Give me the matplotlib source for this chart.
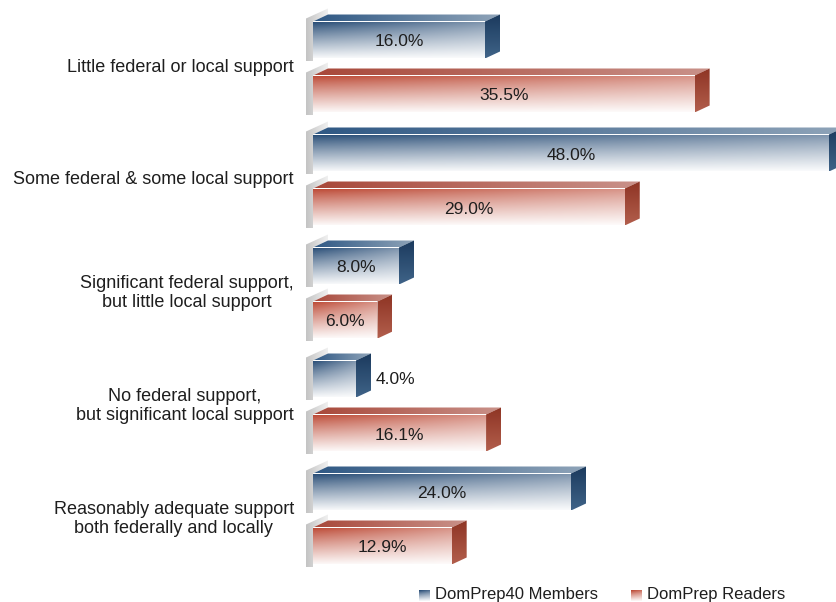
import numpy as np
import matplotlib
matplotlib.use("Agg")
import matplotlib.pyplot as plt
from matplotlib.patches import Polygon
from matplotlib.colors import to_rgb

# ---------------- data ----------------
categories = [
    "Little federal or local support",
    "Some federal & some local support",
    "Significant federal support,\nbut little local support",
    "No federal support,\nbut significant local support",
    "Reasonably adequate support\nboth federally and locally",
]
members = [16.0, 48.0, 8.0, 4.0, 24.0]
readers = [35.5, 29.0, 6.0, 16.1, 12.9]
series_names = ["DomPrep40 Members", "DomPrep Readers"]

# ---------------- layout ----------------
W, H = 837, 602
fig = plt.figure(figsize=(W / 100, H / 100), dpi=100)
ax = fig.add_axes([0, 0, 1, 1])
ax.set_axis_off()
plt.rcParams["font.family"] = ["Liberation Sans", "DejaVu Sans"]

X0 = 313.0      # pixel of value 0
PXU = 10.75     # pixels per percent
YC0 = 67.0      # pixel of first category centre
PERIOD = 113.0  # pixels between categories


def px_x(p):
    return p / PXU


def px_y(p):
    return p / PERIOD


def to_dx(xpx):
    return (xpx - X0) / PXU


def to_dy(ypx):
    return (ypx - YC0) / PERIOD


BAR_H = px_y(37)
OFF = px_y(27)
DX = px_x(15)
DY = px_y(7)

WHITE = np.array([1.0, 1.0, 1.0])


def fill(verts, extent, rgb, z):
    poly = Polygon(verts, closed=True, facecolor="none", edgecolor="none", zorder=z)
    ax.add_patch(poly)
    im = ax.imshow(rgb, extent=extent, origin="upper", aspect="auto",
                   interpolation="bilinear", zorder=z)
    im.set_clip_path(poly)


def front_grad(dark, light_right, nx=200, ny=60):
    u = np.linspace(0, 1, nx)[None, :]
    v = np.linspace(0, 1, ny)[:, None]
    w = 1 - (1 - 0.96 * v ** 0.85) * (1 - light_right * u)
    d = np.array(to_rgb(dark))
    return d[None, None, :] + (WHITE - d)[None, None, :] * w[:, :, None]


def lin_grad(c0, c1, n=100, horizontal=True):
    t = np.linspace(0, 1, n)
    a, b = np.array(to_rgb(c0)), np.array(to_rgb(c1))
    g = a[None, :] + (b - a)[None, :] * t[:, None]
    return g[None, :, :] if horizontal else g[:, None, :]


styles = {
    "blue": dict(front="#204671", light=0.40, top=("#2f5884", "#8ea3b8"),
                 side=("#1b3a5d", "#3f6388")),
    "red": dict(front="#ba432e", light=0.40, top=("#a8483a", "#c99189"),
                side=("#8e3424", "#b25e4c")),
}


def draw_bar(value, yc, st):
    yt = yc - BAR_H / 2
    yb = yc + BAR_H / 2
    # gray wall piece on the left
    xl = -px_x(7)
    wall = [(xl, yb + px_y(3)), (xl, yt - px_y(3)), (DX, yt - DY - px_y(6)),
            (DX, yt - DY), (0, yt), (0, yb + px_y(3))]
    fill(wall, (xl, DX, yb + px_y(3), yt - DY - px_y(6)),
         lin_grad("#c4c4c4", "#f0f0f0"), 1)
    # front face
    front = [(0, yt), (value, yt), (value, yb), (0, yb)]
    fill(front, (0, value, yb, yt), front_grad(st["front"], st["light"]), 3)
    # top face
    top = [(0, yt), (DX, yt - DY), (value + DX, yt - DY), (value, yt)]
    fill(top, (0, value + DX, yt, yt - DY), lin_grad(*st["top"]), 3)
    # side face
    side = [(value, yt), (value + DX, yt - DY), (value + DX, yb - DY), (value, yb)]
    fill(side, (value, value + DX, yb, yt - DY),
         lin_grad(*st["side"], horizontal=False), 3)


TXT = "#1e1e1e"
for i, cat in enumerate(categories):
    yc = i
    for val, sign, key in ((members[i], -1, "blue"), (readers[i], 1, "red")):
        yb_c = yc + sign * OFF
        draw_bar(val, yb_c, styles[key])
        label = f"{val:.1f}%"
        if val * PXU > 60:
            ax.text(val / 2, yb_c + px_y(2), label, ha="center", va="center",
                    fontsize=12.5, color=TXT, zorder=5)
        else:
            ax.text(val + DX + px_x(5), yb_c, label, ha="left", va="center",
                    fontsize=12.5, color=TXT, zorder=5)
    ax.text(to_dx(294), yc, cat, ha="right", va="center", multialignment="center",
            fontsize=13, color=TXT, linespacing=1.15)

# ---------------- legend ----------------
leg_y = to_dy(595)
for (sx, tx), key, name in (((419, 435), "blue", series_names[0]),
                            ((631, 647), "red", series_names[1])):
    x0, x1 = to_dx(sx), to_dx(sx + 11)
    y0, y1 = to_dy(590), to_dy(601)
    sq = [(x0, y0), (x1, y0), (x1, y1), (x0, y1)]
    fill(sq, (x0, x1, y1, y0), front_grad(styles[key]["front"], 0.2, 20, 20), 4)
    ax.text(to_dx(tx), leg_y, name, ha="left", va="center", fontsize=12, color=TXT)

ax.set_xlim(-X0 / PXU, (W - X0) / PXU)
ax.set_ylim((H - YC0) / PERIOD, -YC0 / PERIOD)
fig.savefig("out.png", dpi=100, facecolor="white")
